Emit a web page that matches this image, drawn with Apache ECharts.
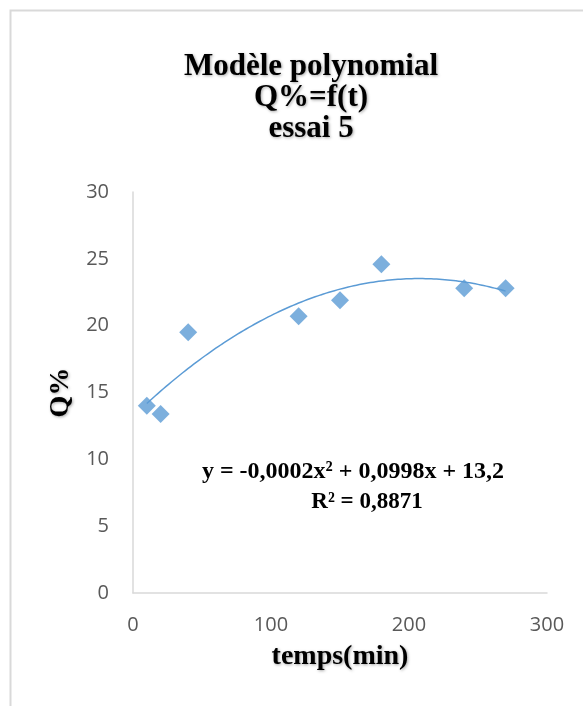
<!DOCTYPE html>
<html>
<head>
<meta charset="utf-8">
<script src="https://cdn.jsdelivr.net/npm/echarts@6/dist/echarts.min.js"></script>
<style>
  html, body { margin: 0; padding: 0; background: #fff; }
  #chart { width: 583px; height: 706px; }
</style>
</head>
<body>
<div id="chart"></div>
<script>
// Measurements: time (min) and Q% for essai 5
const tempsMin = [10, 20, 40, 120, 150, 180, 240, 270];
const qPercent = [14.0, 13.4, 19.5, 20.7, 21.9, 24.6, 22.8, 22.8];
const xTicks = [0, 100, 200, 300];
const yTicks = [0, 5, 10, 15, 20, 25, 30];

const titleText = 'Modèle polynomial\nQ%=f(t)\nessai 5';
const equationLine = 'y = -0,0002x² + 0,0998x + 13,2';
const r2Line = 'R² = 0,8871';

// Least-squares fit of a 2nd order polynomial (trend line)
function polyFit2(xs, ys) {
  let n = xs.length, sx = 0, sx2 = 0, sx3 = 0, sx4 = 0, sy = 0, sxy = 0, sx2y = 0;
  for (let i = 0; i < n; i++) {
    const x = xs[i], y = ys[i];
    sx += x; sx2 += x * x; sx3 += x * x * x; sx4 += x * x * x * x;
    sy += y; sxy += x * y; sx2y += x * x * y;
  }
  // Solve [[sx4 sx3 sx2],[sx3 sx2 sx],[sx2 sx n]] * [a b c] = [sx2y sxy sy]
  const M = [[sx4, sx3, sx2, sx2y], [sx3, sx2, sx, sxy], [sx2, sx, n, sy]];
  for (let i = 0; i < 3; i++) {
    let p = i;
    for (let r = i + 1; r < 3; r++) if (Math.abs(M[r][i]) > Math.abs(M[p][i])) p = r;
    [M[i], M[p]] = [M[p], M[i]];
    for (let r = 0; r < 3; r++) {
      if (r === i) continue;
      const f = M[r][i] / M[i][i];
      for (let c = i; c < 4; c++) M[r][c] -= f * M[i][c];
    }
  }
  return [M[0][3] / M[0][0], M[1][3] / M[1][1], M[2][3] / M[2][2]];
}

const [a, b, c] = polyFit2(tempsMin, qPercent);
const xMin = Math.min(...tempsMin), xMax = Math.max(...tempsMin);
const trend = [];
for (let x = xMin; x <= xMax + 1e-9; x += 2) trend.push([x, a * x * x + b * x + c]);

const points = tempsMin.map((t, i) => [t, qPercent[i]]);

const chart = echarts.init(document.getElementById('chart'), null, { renderer: 'canvas' });
const serif = '"Liberation Serif", "Times New Roman", serif';
const tickFont = { color: '#595959', fontSize: 20, fontFamily: '"Open Sans", sans-serif' };
const shadow = { textShadowColor: 'rgba(0,0,0,0.35)', textShadowBlur: 3, textShadowOffsetX: 1, textShadowOffsetY: 1 };

chart.setOption({
  animation: false,
  backgroundColor: '#ffffff',
  title: {
    text: titleText,
    left: 306,
    top: 46,
    textAlign: 'center',
    textStyle: Object.assign({
      fontFamily: serif, fontWeight: 'bold', fontSize: 31, lineHeight: 31, color: '#000'
    }, shadow)
  },
  graphic: [
    {
      type: 'rect', silent: true, z: -1,
      shape: { x: 10.5, y: 10.5, width: 700, height: 800 },
      style: { fill: 'none', stroke: '#d9d9d9', lineWidth: 2 }
    },
    {
      type: 'text', silent: true,
      x: 353, y: 472,
      style: {
        text: equationLine, fill: '#000', font: 'bold 24px ' + serif,
        align: 'center', verticalAlign: 'middle'
      }
    },
    {
      type: 'text', silent: true,
      x: 367, y: 502,
      style: {
        text: r2Line, fill: '#000', font: 'bold 23px ' + serif,
        align: 'center', verticalAlign: 'middle'
      }
    }
  ],
  grid: { left: 133, top: 192, right: 36, bottom: 113, containLabel: false },
  xAxis: {
    type: 'value', min: xTicks[0], max: xTicks[xTicks.length - 1], interval: 100,
    name: 'temps(min)', nameLocation: 'middle', nameGap: 50,
    nameTextStyle: Object.assign({ fontFamily: serif, fontWeight: 'bold', fontSize: 28, color: '#000' }, shadow),
    axisLine: { show: true, lineStyle: { color: '#d9d9d9', width: 1.5 } },
    axisTick: { show: false },
    splitLine: { show: false },
    axisLabel: Object.assign({ margin: 22 }, tickFont)
  },
  yAxis: {
    type: 'value', min: yTicks[0], max: yTicks[yTicks.length - 1], interval: 5,
    name: 'Q%', nameLocation: 'middle', nameGap: 56, nameRotate: 90,
    nameTextStyle: Object.assign({ fontFamily: serif, fontWeight: 'bold', fontSize: 28, color: '#000' }, shadow),
    axisLine: { show: true, lineStyle: { color: '#d9d9d9', width: 1.5 } },
    axisTick: { show: false },
    splitLine: { show: false },
    axisLabel: Object.assign({ margin: 24 }, tickFont)
  },
  series: [
    {
      type: 'line', data: trend, showSymbol: false, smooth: false,
      lineStyle: { color: '#5b9bd5', width: 1.5 }, z: 2, silent: true
    },
    {
      type: 'scatter', data: points, symbol: 'diamond', symbolSize: [18, 18],
      itemStyle: { color: '#5b9bd5' }, z: 3
    }
  ]
});
</script>
</body>
</html>
